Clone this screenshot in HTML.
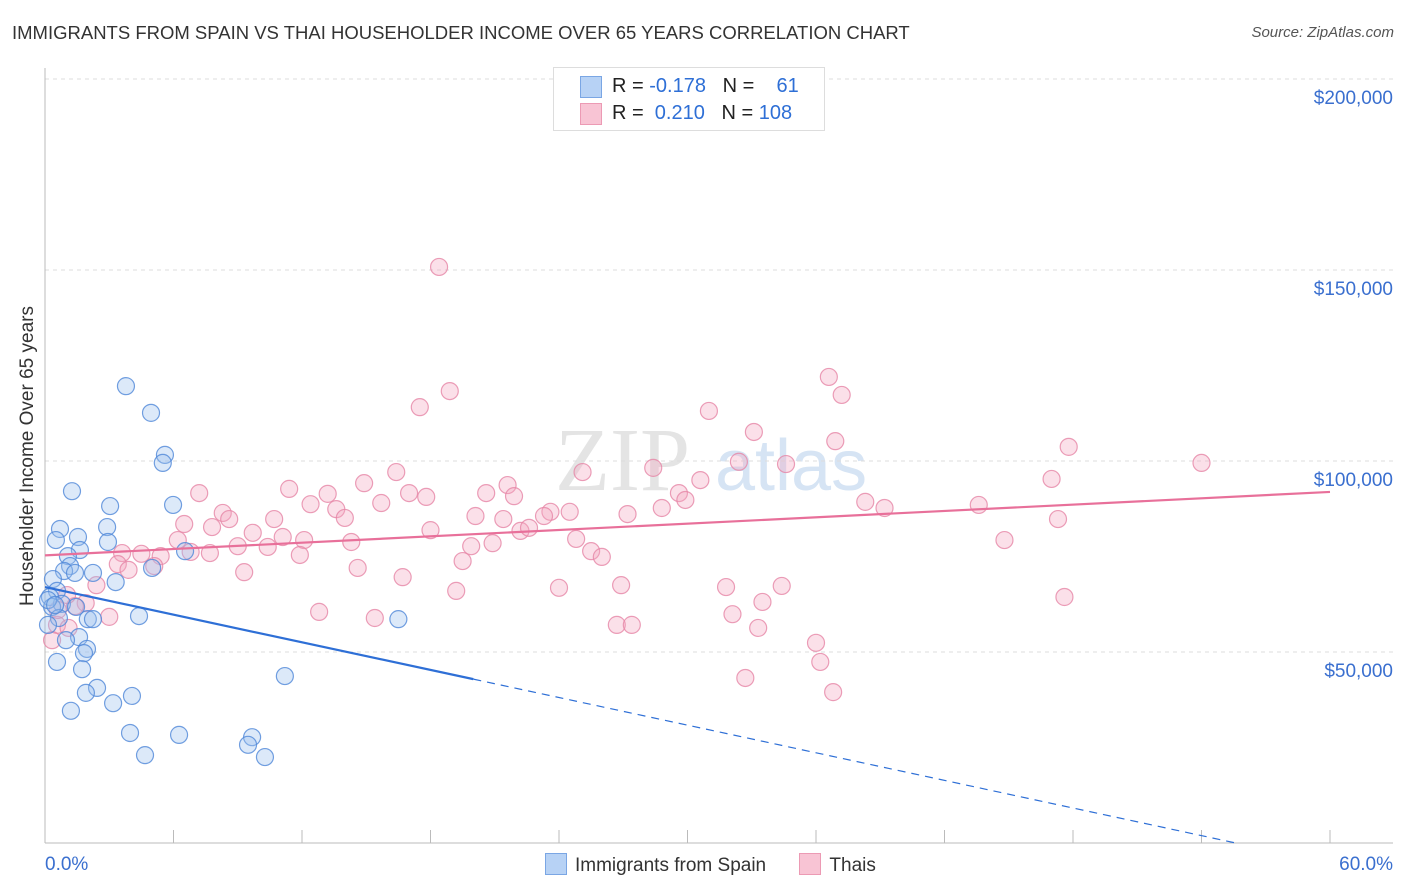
<!DOCTYPE html>
<html><head><meta charset="utf-8">
<style>
body{margin:0;background:#fff;font-family:"Liberation Sans",sans-serif;}
#wrap{position:relative;width:1406px;height:892px;overflow:hidden;}
.t{position:absolute;white-space:nowrap;}
</style></head>
<body>
<div id="wrap">
<div class="t" style="left:12px;top:22px;font-size:18.5px;color:#333;">IMMIGRANTS FROM SPAIN VS THAI HOUSEHOLDER INCOME OVER 65 YEARS CORRELATION CHART</div>
<div class="t" style="right:12px;top:24px;font-size:15px;color:#555;font-style:italic;">Source: ZipAtlas.com</div>
<svg id="svg" width="1406" height="892" style="position:absolute;left:0;top:0"></svg>
</div>
<script>
const yTicks=[50000,100000,150000,200000];
const yTickLabels=["$50,000","$100,000","$150,000","$200,000"];
const xTickLabels=["0.0%","60.0%"];
const spainX=[3.78,4.95,5.6,5.5,1.26,3.04,5.98,0.70,2.9,0.51,1.54,2.94,1.63,6.54,1.07,1.17,0.89,1.4,2.24,5.0,0.37,3.3,0.56,0.23,0.79,0.33,1.45,0.65,2.0,2.24,4.39,16.5,1.59,0.98,1.96,1.82,0.56,1.73,11.2,2.43,1.91,4.06,3.18,1.21,3.97,6.26,9.67,9.48,4.67,10.27,0.14,0.14,0.47];
const spainY=[119.6,112.6,101.6,99.5,92.1,88.2,88.5,82.2,82.7,79.3,80.1,78.8,76.7,76.4,75.1,72.5,71.2,70.7,70.7,72.0,69.1,68.3,66.0,64.4,62.6,61.8,61.8,58.9,58.6,58.6,59.4,58.6,53.9,53.1,50.8,49.7,47.4,45.5,43.7,40.6,39.3,38.5,36.6,34.6,28.8,28.3,27.7,25.7,23.0,22.5,63.6,57.1,62.3];
const thaiX=[18.4,18.9,17.5,36.6,37.2,31.0,33.1,36.9,47.8,54.0,32.4,34.6,28.4,25.1,16.4,30.6,47.0,14.9,21.6,11.4,7.2,13.2,17.0,20.6,17.8,21.9,29.6,29.9,38.3,39.2,43.6,12.4,13.6,15.7,8.3,23.6,24.5,27.2,28.8,23.3,20.1,21.4,14.0,10.7,8.6,6.5,7.8,47.3,18.0,22.2,22.6,9.7,11.1,6.2,12.1,14.3,20.9,24.8,44.8,9.0,10.4,19.9,25.5,3.6,4.5,5.4,6.8,7.7,11.9,26.0,19.5,3.4,5.1,3.9,14.6,9.3,16.7,2.4,26.9,31.8,34.4,24.0,19.2,33.5,47.6,1.9,1.4,12.8,15.4,32.1,3.0,0.56,26.7,27.4,33.3,1.1,36.0,0.33,36.2,32.7,36.8,0.6,1.03];
const thaiY=[150.8,118.3,114.1,122.0,117.3,113.1,107.6,105.2,103.7,99.5,99.8,99.2,98.2,97.1,97.1,95.0,95.3,94.2,93.7,92.7,91.6,91.4,91.6,91.6,90.6,90.8,91.6,89.8,89.3,87.7,88.5,88.7,87.4,89.0,86.4,86.7,86.7,86.1,87.7,85.6,85.6,84.8,85.1,84.8,84.8,83.5,82.7,84.8,81.9,81.7,82.5,81.2,80.1,79.3,79.3,78.8,78.5,79.6,79.3,77.7,77.5,77.7,76.4,75.9,75.7,75.1,76.2,75.9,75.4,74.9,73.8,73.0,72.5,71.5,72.0,70.9,69.6,67.5,67.5,67.0,67.3,66.8,66.0,63.1,64.4,62.8,62.0,60.5,58.9,59.9,59.2,57.1,57.1,57.1,56.3,56.3,52.4,53.1,47.4,43.2,39.5,61.0,64.9];
const spainTrend=[0,67.0,20,42.9];
const thaiTrend=[0,75.3,60,91.9];

const NS="http://www.w3.org/2000/svg";
const svg=document.getElementById('svg');
const X=v=>45+v/60*1285;
const Y=v=>843-v/50000*191;
const Yk=v=>Y(v*1000);
function mk(tag,attrs){const e=document.createElementNS(NS,tag);for(const k in attrs)e.setAttribute(k,attrs[k]);svg.appendChild(e);return e;}

let wm=mk('text',{x:555,y:490,'font-size':90,fill:'#e4e4e4','font-family':'Liberation Serif, serif'});wm.textContent='ZIP';


let wm2=mk('text',{x:715,y:490,'font-size':72,fill:'#d6e4f4','font-family':'Liberation Sans, sans-serif'});wm2.textContent='atlas';



yTicks.forEach((v,i)=>{
  const g=mk('line',{x1:45,x2:1393,y1:Y(v),y2:Y(v),stroke:'#ddd','stroke-dasharray':'4,4'});
  
  
  const t=mk('text',{x:1393,y:Y(v)+25,'text-anchor':'end','font-size':19,fill:'#3a6fcf'});
  t.textContent=yTickLabels[i];
  
  
});
let ax=mk('line',{x1:45,x2:1393,y1:843,y2:843,stroke:'#bbb'});


let ay=mk('line',{x1:45,x2:45,y1:68,y2:843,stroke:'#bbb'});


for(let i=0;i<=10;i++){
  const tk=mk('line',{x1:X(i*6),x2:X(i*6),y1:830,y2:843,stroke:'#bbb'});
  
  
}
let xl0=mk('text',{x:45,y:870,'font-size':19,fill:'#3a6fcf'});xl0.textContent=xTickLabels[0];


let xl1=mk('text',{x:1393,y:870,'text-anchor':'end','font-size':19,fill:'#3a6fcf'});xl1.textContent=xTickLabels[1];


let yt=mk('text',{x:0,y:0,'font-size':19,fill:'#333',transform:'translate(33,456) rotate(-90)','text-anchor':'middle'});yt.textContent='Householder Income Over 65 years';



function pts(xs,ys,fill,stroke,name){
  xs.forEach((x,i)=>{
    const c=mk('circle',{cx:X(x),cy:Yk(ys[i]),r:8.5,fill:fill,'fill-opacity':0.35,stroke:stroke,'stroke-width':1.2,'stroke-opacity':0.8});
    
    
  });
}
pts(thaiX,thaiY,'#f4a7c0','#e686a6','thai-point');
pts(spainX,spainY,'#9cc0ee','#4f87d8','spain-point');

const sm=(spainTrend[3]-spainTrend[1])/(spainTrend[2]-spainTrend[0]);
const sEnd=Math.min((0-spainTrend[1])/sm,56);
let tl1=mk('line',{x1:X(spainTrend[0]),y1:Yk(spainTrend[1]),x2:X(spainTrend[2]),y2:Yk(spainTrend[3]),stroke:'#2e6fd6','stroke-width':2.2});


let tl2=mk('line',{x1:X(spainTrend[2]),y1:Yk(spainTrend[3]),x2:X(sEnd),y2:Yk(spainTrend[1]+sm*sEnd),stroke:'#2e6fd6','stroke-width':1.2,'stroke-dasharray':'8,6'});


let tl3=mk('line',{x1:X(thaiTrend[0]),y1:Yk(thaiTrend[1]),x2:X(thaiTrend[2]),y2:Yk(thaiTrend[3]),stroke:'#e8709a','stroke-width':2.2});


</script>

<div class="t" style="left:553px;top:67px;width:270px;height:62px;border:1px solid #ddd;background:#fff;">
  <div style="position:absolute;left:26px;top:8px;width:20px;height:20px;background:#b7d2f5;border:1px solid #7aa6e4;"></div>
  <div style="position:absolute;left:26px;top:35px;width:20px;height:20px;background:#f8c4d4;border:1px solid #ec9ab4;"></div>
  <div class="t" style="left:58px;top:7px;font-size:20px;color:#222;">R = <span style="color:#2e6fd6">-0.178</span>&nbsp;&nbsp;&nbsp;N =&nbsp;&nbsp;&nbsp;&nbsp;<span style="color:#2e6fd6">61</span></div>
  <div class="t" style="left:58px;top:34px;font-size:20px;color:#222;">R = &nbsp;<span style="color:#2e6fd6">0.210</span>&nbsp;&nbsp;&nbsp;N = <span style="color:#2e6fd6">108</span></div>
</div>

<div class="t" style="left:545px;top:853px;font-size:19px;color:#333;">
  <span style="display:inline-block;width:20px;height:20px;background:#b7d2f5;border:1px solid #7aa6e4;vertical-align:-4px;margin-right:8px;"></span><span>Immigrants from Spain</span>
  <span style="display:inline-block;width:20px;height:20px;background:#f8c4d4;border:1px solid #ec9ab4;vertical-align:-4px;margin:0 8px 0 28px;"></span><span>Thais</span>
</div>
</body></html>
